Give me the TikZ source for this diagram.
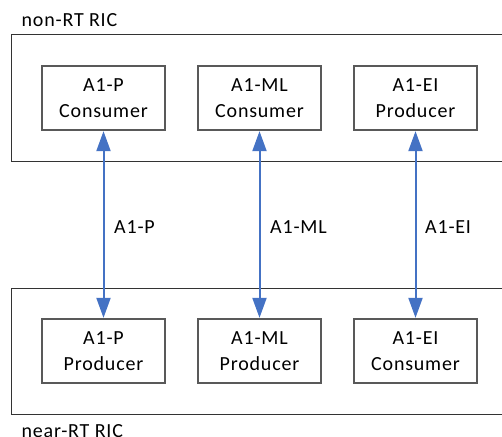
\documentclass[tikz,border=0pt]{standalone}
\usepackage{fontspec}
\setmainfont{Carlito}[LetterSpace=4]
\usetikzlibrary{arrows.meta}
\definecolor{arrblue}{HTML}{4472C4}
\begin{document}
\begin{tikzpicture}[x=1pt,y=-1pt,
  outerbox/.style={draw=black!80,line width=1pt},
  innerbox/.style={draw=black!65,line width=1.3pt,minimum width=123pt,minimum height=64pt,inner sep=0pt,align=center,font=\fontsize{20}{26.5}\selectfont},
  link/.style={draw=arrblue,line width=2pt,{Triangle[width=14pt,length=20pt]}-{Triangle[width=14pt,length=20pt]},shorten <=0.5pt,shorten >=0.5pt},
  lbl/.style={font=\fontsize{20}{24}\selectfont,anchor=base west,inner sep=0pt}]
\useasboundingbox (0,0) rectangle (502,436);
\draw[outerbox] (508,35) -| (11,161.5) -- (508,161.5);
\draw[outerbox] (508,288) -| (11,414.5) -- (508,414.5);
\node[lbl] (top) at (21.5,26.5) {non-RT RIC};
\node[lbl] (bot) at (21.5,437.5) {near-RT RIC};
\node[innerbox] (pc) at (103.5,98) {A1-P\\Consumer};
\node[innerbox] (mc) at (259.5,98) {A1-ML\\Consumer};
\node[innerbox] (ep) at (415.5,98) {A1-EI\\Producer};
\node[innerbox] (pp) at (103.5,351) {A1-P\\Producer};
\node[innerbox] (mp) at (259.5,351) {A1-ML\\Producer};
\node[innerbox] (ec) at (415.5,351) {A1-EI\\Consumer};
\draw[link] (pc) -- (pp);
\draw[link] (mc) -- (mp);
\draw[link] (ep) -- (ec);
\node[lbl] (lp) at (114,233) {A1-P};
\node[lbl] (lm) at (270,233) {A1-ML};
\node[lbl] (le) at (425,233) {A1-EI};
\end{tikzpicture}
\end{document}
